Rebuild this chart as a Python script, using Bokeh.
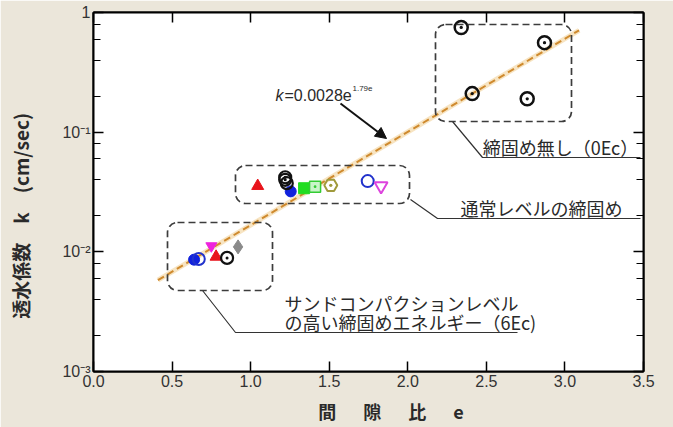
import math
from bokeh.plotting import figure
from bokeh.models import (BoxAnnotation, Label, Arrow, NormalHead, LinearAxis, LogAxis,
                          FixedTicker, LogTicker, CustomJSTickFormatter, Range1d)
from bokeh.embed import file_html
from bokeh.resources import INLINE

# ---------------- data (void ratio e, permeability k [cm/sec]) ----------------
e_none = [2.34, 2.87, 2.41, 2.76]          # no compaction (0Ec)
k_none = [0.75, 0.56, 0.21, 0.19]
e_black = [1.22, 1.22, 1.23, 0.85]
k_black = [0.042, 0.040, 0.0375, 0.0089]
e_red_tri = [1.045, 0.78]
k_red_tri = [0.0355, 0.0091]
e_blue_fill = [1.255, 0.64]
k_blue_fill = [0.032, 0.0086]
e_blue_open = [1.745, 0.67]
k_blue_open = [0.039, 0.0087]
e_green_sq = [1.34]
k_green_sq = [0.034]
e_green_sqdot = [1.41]
k_green_sqdot = [0.035]
e_olive = [1.51]
k_olive = [0.036]
e_mag_open = [1.83]
k_mag_open = [0.0355]
e_mag_fill = [0.75]
k_mag_fill = [0.0112]
e_gray = [0.92]
k_gray = [0.011]
e_fit = [0.41, 3.09]
k_fit = [0.0058, 0.71]

x_ticks = [0.0, 0.5, 1.0, 1.5, 2.0, 2.5, 3.0, 3.5]
x_tick_labels = ["0.0", "0.5", "1.0", "1.5", "2.0", "2.5", "3.0", "3.5"]
y_ticks = [0.001, 0.01, 0.1, 1.0]
y_tick_labels = ["10\u207b\u00b3", "10\u207b\u00b2", "10\u207b\u00b9", "1"]
x_title = "間\u3000\u2002隙\u3000\u2002比\u3000\u2002e"
y_title = "透水係数\u3000k\u3000(cm/sec)"

# ------------- helpers: place annotations (reference pixel -> data) -------------
def ex(px):
    return (px - 93.0) / (550.0 / 3.5)

def ky(py):
    return 10 ** (-(py - 12.0) / (359.0 / 3.0))

BEIGE = "#ebe6da"
INK = "#2a2a2a"
JP = "Noto Sans CJK JP"
LAT = "Liberation Sans"

p = figure(width=673, height=427, x_range=Range1d(0, 3.5), y_range=Range1d(0.001, 1.0),
           y_axis_type="log", output_backend="svg", toolbar_location=None,
           min_border_left=93, min_border_right=30, min_border_top=12, min_border_bottom=56,
           border_fill_color=BEIGE, background_fill_color="white",
           outline_line_color="black", outline_line_width=2)
p.grid.visible = False

# white panel behind the chart
p.add_layout(BoxAnnotation(left=ex(52), right=ex(663), top=ky(0), bottom=ky(398),
                           fill_color="white", fill_alpha=1.0, line_color=None,
                           level="underlay"))

fmt_x = CustomJSTickFormatter(args=dict(tks=x_ticks, lbls=x_tick_labels), code="""
const i = tks.findIndex(t => Math.abs(t - tick) < 1e-6);
return i >= 0 ? lbls[i] : '';
""")
fmt_y = CustomJSTickFormatter(args=dict(tks=y_ticks, lbls=y_tick_labels), code="""
const i = tks.findIndex(t => Math.abs(Math.log10(t) - Math.log10(tick)) < 1e-6);
return i >= 0 ? lbls[i] : '';
""")
blank = CustomJSTickFormatter(code="return '';")

xa = p.xaxis[0]
xa.ticker = FixedTicker(ticks=x_ticks)
xa.formatter = fmt_x
ya = p.yaxis[0]
ya.ticker = LogTicker()
ya.formatter = fmt_y

for ax in (xa, ya):
    ax.axis_line_width = 2
    ax.major_tick_in = 10
    ax.major_tick_out = 0
    ax.major_tick_line_width = 1.5
    ax.minor_tick_in = 7
    ax.minor_tick_out = 0
    ax.minor_tick_line_width = 1
    ax.major_label_text_font = LAT
    ax.major_label_text_font_size = "16px"
    ax.major_label_text_color = "#333333"
    ax.major_label_standoff = 3
    ax.axis_label_text_font = JP
    ax.axis_label_text_font_style = "bold"
    ax.axis_label_text_color = INK
xa.minor_tick_line_color = None

# axis titles (leading / trailing spaces shift them as in the reference)
xa.axis_label = "\u3000\u3000\u2002" + x_title
xa.axis_label_text_font_size = "18px"
xa.axis_label_standoff = 8
ya.axis_label = y_title + "\u3000\u3000\u2002"
ya.axis_label_text_font_size = "19px"
ya.axis_label_standoff = 25

top = LinearAxis(ticker=FixedTicker(ticks=x_ticks), formatter=blank, axis_line_width=2,
                 major_tick_in=10, major_tick_out=0, major_tick_line_width=1.5,
                 minor_tick_line_color=None, major_label_standoff=0)
right = LogAxis(ticker=LogTicker(), formatter=blank, axis_line_width=2,
                major_tick_in=10, major_tick_out=0, major_tick_line_width=1.5,
                minor_tick_in=7, minor_tick_out=0, major_label_standoff=0)
p.add_layout(top, "above")
p.add_layout(right, "right")

# ---------------- dashed group boxes ----------------
for (l, r, t, b) in [(435, 571, 24, 121), (235, 409, 165, 203), (167, 272, 222, 290)]:
    p.add_layout(BoxAnnotation(left=ex(l), right=ex(r), top=ky(t), bottom=ky(b),
                               fill_alpha=0, line_color="#3c3c3c", line_alpha=1.0,
                               line_width=1.7, line_dash="7 4", border_radius=10))

# ---------------- fit line ----------------
p.line(e_fit, k_fit, line_color="#f4d9a8", line_width=5, line_alpha=0.7)
p.line(e_fit, k_fit, line_color="#cf8a2e", line_width=2, line_dash="7 4")

# ---------------- markers ----------------
p.scatter(e_gray, k_gray, marker="diamond", size=14, fill_color="#8a8a8a", line_color="#8a8a8a")
p.scatter(e_mag_fill, k_mag_fill, marker="inverted_triangle", size=11,
          fill_color="#ee22dd", line_color="#ee22dd")
p.scatter(e_blue_fill, k_blue_fill, marker="circle", size=11, fill_color="#1122dd", line_color="#1122dd")
p.scatter(e_blue_open, k_blue_open, marker="circle", size=12, fill_color=None,
          line_color="#2233cc", line_width=2)
p.scatter(e_red_tri, k_red_tri, marker="triangle", size=12, fill_color="#e8141c", line_color="#e8141c")
p.scatter(e_black, k_black, marker="circle_dot", size=12, fill_color="white",
          line_color="#111111", line_width=2.2, fill_alpha=0)
p.scatter(e_green_sq, k_green_sq, marker="square", size=11, fill_color="#22dd22", line_color="#22dd22")
p.scatter(e_green_sqdot, k_green_sqdot, marker="square_dot", size=11, fill_color="#c8f5c8",
          line_color="#33cc33", line_width=1.5)
p.scatter(e_olive, k_olive, marker="hex_dot", size=13, fill_color=None,
          line_color="#a09a3c", line_width=2)
p.scatter(e_mag_open, k_mag_open, marker="inverted_triangle", size=13, fill_color=None,
          line_color="#dd44dd", line_width=2)
p.scatter(e_none, k_none, marker="circle_dot", size=13, fill_color=None,
          line_color="#111111", line_width=2.5)

# ---------------- leader lines ----------------
for pts in [[(452, 121), (482, 157), (640, 157)],
            [(410, 199), (437, 218), (640, 218)],
            [(202, 290), (235, 332), (517, 332)]]:
    p.line([ex(a) for a, _ in pts], [ky(b) for _, b in pts], line_color="#333333", line_width=1.2)

# ---------------- texts ----------------
def lab(txt, x, y, size="18px", align="left", font=JP, style="normal", **kw):
    p.add_layout(Label(x=ex(x), y=ky(y), text=txt, text_font=font, text_font_size=size,
                       text_align=align, text_baseline="middle", text_color=INK,
                       text_font_style=style, **kw))

lab("締固め無し（0Ec）", 560, 146, align="center")
lab("通常レベルの締固め", 541, 207, align="center")
lab("サンドコンパクションレベル", 284, 302)
lab("の高い締固めエネルギー（6Ec)", 284, 321)

lab("k", 275, 95, size="16px", font=LAT, style="italic")
lab("=0.0028e", 284, 95, size="16px", font=LAT)
lab("1.79e", 352, 88, size="8px", font=LAT)

p.add_layout(Arrow(end=NormalHead(size=11, fill_color="#111111", line_color="#111111"),
                   x_start=ex(340), y_start=ky(103), x_end=ex(386), y_end=ky(138),
                   line_width=2, line_color="#111111"))

open("out.html", "w").write(file_html(p, INLINE))
